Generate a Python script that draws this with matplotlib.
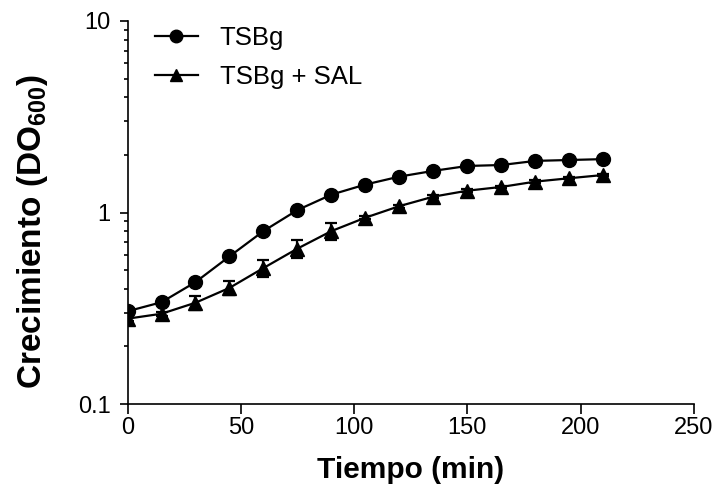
import matplotlib
matplotlib.use("Agg")
import matplotlib.pyplot as plt
from matplotlib.ticker import LogLocator, FixedLocator, NullFormatter
from matplotlib.lines import Line2D

plt.rcParams['font.family'] = ['Liberation Sans', 'DejaVu Sans']
plt.rcParams['mathtext.fontset'] = 'custom'
plt.rcParams['mathtext.bf'] = 'Liberation Sans:bold'
plt.rcParams['mathtext.rm'] = 'Liberation Sans'
plt.rcParams['mathtext.default'] = 'bf'

time_min = [0, 15, 30, 45, 60, 75, 90, 105, 120, 135, 150, 165, 180, 195, 210]
tsbg = [0.305, 0.34, 0.433, 0.59, 0.80, 1.03, 1.24, 1.40, 1.54, 1.65, 1.75, 1.77, 1.86, 1.88, 1.90]
tsbg_err = [0.005, 0.005, 0.01, 0.01, 0.01, 0.01, 0.01, 0.01, 0.01, 0.01, 0.01, 0.01, 0.01, 0.01, 0.01]
tsbg_sal = [0.279, 0.296, 0.338, 0.404, 0.513, 0.648, 0.80, 0.94, 1.08, 1.21, 1.30, 1.36, 1.45, 1.51, 1.57]
tsbg_sal_err = [0.008, 0.008, 0.03, 0.033, 0.05, 0.07, 0.08, 0.02, 0.02, 0.02, 0.02, 0.02, 0.02, 0.02, 0.02]

labels = ["TSBg", "TSBg + SAL"]
xticks = [0, 50, 100, 150, 200, 250]
yticks = [0.1, 1, 10]
ytick_labels = ["0.1", "1", "10"]

fig = plt.figure(figsize=(7.18, 4.86), dpi=100)
ax = fig.add_axes([0.1776, 0.1687, 0.789, 0.7881])

ax.errorbar(time_min, tsbg, yerr=tsbg_err, color='black', lw=1.6, marker='o',
            markersize=10, capsize=4.5, capthick=1.6, elinewidth=1.6)
ax.errorbar(time_min, tsbg_sal, yerr=tsbg_sal_err, color='black', lw=1.6, marker='^',
            markersize=10, capsize=4.5, capthick=1.6, elinewidth=1.6)

ax.set_yscale('log')
ax.set_ylim(0.1, 10)
ax.set_xlim(0, 250)
ax.yaxis.set_major_locator(FixedLocator(yticks))
ax.set_yticklabels(ytick_labels)
ax.yaxis.set_minor_locator(LogLocator(base=10, subs=range(2, 10)))
ax.yaxis.set_minor_formatter(NullFormatter())
ax.set_xticks(xticks)

for s in ['top', 'right']:
    ax.spines[s].set_visible(False)
for s in ['left', 'bottom']:
    ax.spines[s].set_linewidth(1.2)

ax.tick_params(axis='both', which='major', labelsize=17, width=1.2, direction='out')
ax.tick_params(axis='x', which='major', length=7, pad=2.5)
ax.tick_params(axis='y', which='major', length=5.5, pad=6.5)
ax.tick_params(axis='y', which='minor', length=2.8, width=1.2)

ax.set_xlabel('Tiempo (min)', fontsize=21.5, fontweight='bold')
ax.xaxis.set_label_coords(0.5, -0.136)
ax.set_ylabel('Crecimiento (DO$_{600}$)', fontsize=24, fontweight='bold')
ax.yaxis.set_label_coords(-0.137, 0.45)

handles = [Line2D([], [], color='black', lw=1.6, marker='o', markersize=9),
           Line2D([], [], color='black', lw=1.6, marker='^', markersize=8.5)]
leg = ax.legend(handles, labels, loc='upper left', bbox_to_anchor=(0.0485, 0.988), frameon=False,
                fontsize=18.5, handlelength=1.67, handletextpad=0.85, labelspacing=0.6,
                borderaxespad=0, borderpad=0)

fig.savefig('out.png', dpi=100)
